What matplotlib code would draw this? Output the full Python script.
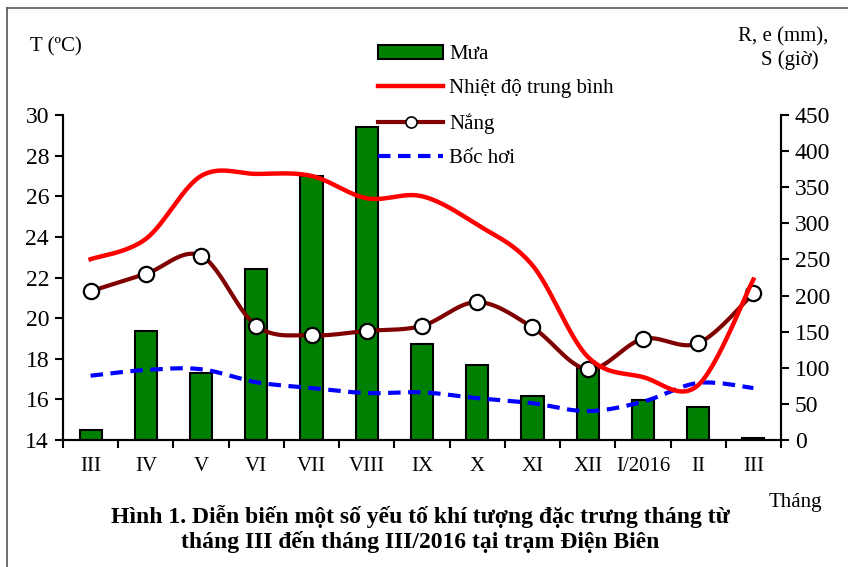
import numpy as np
import matplotlib
matplotlib.use("Agg")
import matplotlib.pyplot as plt
from matplotlib.lines import Line2D
from matplotlib.patches import Patch

plt.rcParams['font.family'] = ['Liberation Serif', 'DejaVu Serif']

months = ["III", "IV", "V", "VI", "VII", "VIII", "IX", "X", "XI", "XII", "I/2016", "II", "III"]
rain = [14, 151, 93, 237, 366, 433, 133, 104, 61, 100, 55, 46, 3]
temp = [22.9, 23.9, 27.0, 27.1, 27.0, 25.9, 26.0, 24.6, 22.6, 18.1, 17.1, 16.7, 21.9]
sun = [206, 230, 255, 158, 145, 151, 158, 191, 156, 98, 140, 134, 203]
evap = [89, 97, 98, 80, 72, 65, 66, 58, 51, 40, 53, 79, 72]


def smooth(x, y, n=30):
    x = np.asarray(x, float)
    y = np.asarray(y, float)
    P = np.column_stack([x, y])
    P = np.vstack([P[0], P, P[-1]])
    out = []
    t = np.linspace(0, 1, n)[:, None]
    for i in range(1, len(P) - 2):
        p0, p1, p2, p3 = P[i - 1], P[i], P[i + 1], P[i + 2]
        c1 = p1 + (p2 - p0) / 6
        c2 = p2 - (p3 - p1) / 6
        seg = ((1 - t) ** 3) * p1 + 3 * ((1 - t) ** 2) * t * c1 + 3 * (1 - t) * t ** 2 * c2 + t ** 3 * p2
        out.append(seg if i == 1 else seg[1:])
    S = np.vstack(out)
    return S[:, 0], S[:, 1]


fig = plt.figure(figsize=(8.48, 5.67), dpi=100)
ax2 = fig.add_axes([63 / 848, 1 - 440 / 567, (781 - 63) / 848, (440 - 115) / 567])
ax1 = ax2.twinx()
ax1.yaxis.tick_left()
ax1.yaxis.set_label_position("left")
ax2.yaxis.tick_right()
ax2.yaxis.set_label_position("right")

x = np.arange(len(months))
ax2.bar(x, rain, width=0.4, color="#008000", edgecolor="black", linewidth=1.5, zorder=2)
sx, sy = smooth(x, sun)
ax2.plot(sx, sy, color="#800000", lw=3, zorder=3, solid_capstyle="butt")
ax2.plot(x, sun, ls="none", marker="o", ms=11, mfc="white", mec="black", mew=1.6, zorder=4)
ex, ey = smooth(x, evap)
ax2.plot(ex, ey, color="#0000ff", lw=3, ls=(0, (3, 1.8)), zorder=3)

tx, ty = smooth(x, temp)
ax1.plot(tx, ty, color="#ff0000", lw=3.2, zorder=5)

ax2.set_xlim(-0.5, len(months) - 0.5)
ax2.set_ylim(0, 450)
ax2.set_yticks(np.arange(0, 451, 50))
ax1.set_ylim(14, 30)
ax1.set_yticks(np.arange(14, 31, 2))

ax2.set_xticks(np.arange(-0.5, len(months), 1))
ax2.set_xticklabels([])
ax2.set_xticks(x, minor=True)
ax2.set_xticklabels(months, minor=True)
ax2.tick_params(axis="x", which="major", direction="out", length=6, width=1.5)
ax2.tick_params(axis="x", which="minor", length=0, pad=12, labelsize=15)
ax2.tick_params(axis="y", direction="out", length=6, width=1.5, labelsize=17, pad=4)
ax1.tick_params(axis="y", direction="out", length=6, width=1.5, labelsize=17, pad=4)

for a in (ax1, ax2):
    a.spines["top"].set_visible(False)
    for s in ("left", "right", "bottom"):
        a.spines[s].set_linewidth(1.5)
ax1.patch.set_visible(False)

handles = [
    Patch(facecolor="#008000", edgecolor="black", linewidth=1.5),
    Line2D([], [], color="#ff0000", lw=3.2),
    Line2D([], [], color="#800000", lw=3, marker="o", ms=8, mfc="white", mec="black", mew=1.2),
    Line2D([], [], color="#0000ff", lw=3, ls=(0, (3, 1.8))),
]
labels = ["Mưa", "Nhiệt độ trung bình", "Nắng", "Bốc hơi"]
leg = fig.legend(handles, labels, loc="upper left", bbox_to_anchor=(368 / 848, 1 - 35 / 567),
                 frameon=False, fontsize=15, handlelength=3.1, handleheight=0.6,
                 labelspacing=0.72, handletextpad=0.3, borderpad=0)
leg.set_zorder(10)

fig.text(30 / 848, 1 - 47 / 567, "T (ºC)", fontsize=15, va="center", ha="left")
fig.text(783 / 848, 1 - 37 / 567, "R, e (mm),", fontsize=15, va="center", ha="center")
fig.text(790 / 848, 1 - 60 / 567, "S (giờ)", fontsize=15, va="center", ha="center")
fig.text(795 / 848, 1 - 502 / 567, "Tháng", fontsize=15, va="center", ha="center")
fig.text(420 / 848, 1 - 517 / 567, "Hình 1. Diễn biến một số yếu tố khí tượng đặc trưng tháng từ",
         fontsize=17, fontweight="bold", va="center", ha="center")
fig.text(420 / 848, 1 - 542 / 567, "tháng III đến tháng III/2016 tại trạm Điện Biên",
         fontsize=17, fontweight="bold", va="center", ha="center")

fig.add_artist(Line2D([7 / 848, 1], [1 - 8 / 567, 1 - 8 / 567], color="#555555", lw=1.2, transform=fig.transFigure))
fig.add_artist(Line2D([7 / 848, 7 / 848], [0, 1 - 8 / 567], color="#555555", lw=1.2, transform=fig.transFigure))

fig.savefig("out.png", dpi=100)
